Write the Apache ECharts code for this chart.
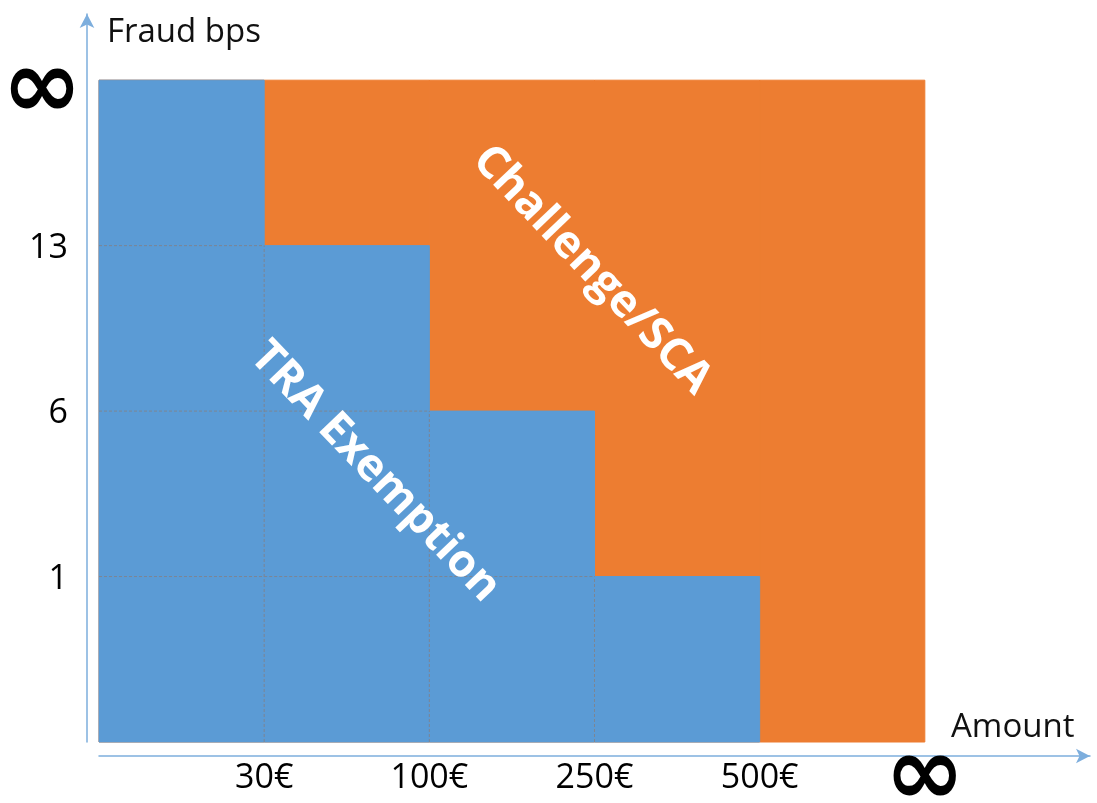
<!DOCTYPE html>
<html>
<head>
<meta charset="utf-8">
<script src="https://cdn.jsdelivr.net/npm/echarts@6/dist/echarts.min.js"></script>
<style>
    html, body { margin: 0; padding: 0; background: #fff; }
    #chart { width: 1097px; height: 803px; }
</style>
</head>
<body>
<div id="chart"></div>
<script>
// 数据
const amountLabels = ['30€', '100€', '250€', '500€', '∞'];   // x 轴刻度（列边界）
const fraudLabels = ['1', '6', '13', '∞'];                  // y 轴刻度（带边界）
const exemptionHeights = [4, 3, 2, 1, 0];                   // TRA 豁免：每列高度（格数）
const challengeHeights = [4, 4, 4, 4, 4];                   // Challenge/SCA：整块区域

const BLUE = '#5B9BD5';
const ORANGE = '#ED7D31';
const AXIS = '#7DAEDD';
const FONT = '"Open Sans", sans-serif';

var myChart = echarts.init(document.getElementById('chart'));

// 矩形列
function renderColumn(params, api) {
    var c = api.value(0);
    var h = api.value(1);
    if (h <= 0) return null;
    var p0 = api.coord([c, 0]);
    var p1 = api.coord([c + 1, h]);
    var color = api.visual('color');
    return {
        type: 'rect',
        shape: { x: p0[0], y: p1[1], width: p1[0] - p0[0], height: p0[1] - p1[1] },
        style: { fill: color, stroke: color, lineWidth: 1 }
    };
}

// 蓝色区域内部的虚线格
function renderCellLines(params, api) {
    var c = api.value(0);
    var h = api.value(1);
    var children = [];
    var lineStyle = { stroke: '#7C8593', lineWidth: 1, lineDash: [3, 2] };
    for (var k = 1; k < h; k++) {
        var a = api.coord([c, k]);
        var b = api.coord([c + 1, k]);
        children.push({ type: 'line', shape: { x1: a[0], y1: a[1], x2: b[0], y2: b[1] }, style: lineStyle });
    }
    var next = exemptionHeights[c + 1] || 0;
    var shared = Math.min(h, next);
    if (shared > 0) {
        var a2 = api.coord([c + 1, 0]);
        var b2 = api.coord([c + 1, shared]);
        children.push({ type: 'line', shape: { x1: a2[0], y1: a2[1], x2: b2[0], y2: b2[1] }, style: lineStyle });
    }
    return { type: 'group', children: children };
}

var infStyle = { fontSize: 96, fontWeight: 'bold', fontFamily: 'DejaVu Sans', color: '#000', lineHeight: 40 };

var options = {
    animation: false,
    grid: { left: 99, right: 7, top: 14, bottom: 61, outerBoundsMode: 'none', containLabel: false },
    xAxis: {
        type: 'value',
        min: 0,
        max: 6,
        offset: 14,
        splitLine: { show: false },
        axisTick: { show: false },
        axisLine: {
            show: true,
            onZero: false,
            symbol: ['none', 'arrow'],
            symbolSize: [11, 14],
            lineStyle: { color: AXIS, width: 1.5 }
        },
        axisLabel: {
            customValues: [1, 2, 3, 4, 5],
            margin: 3,
            formatter: function (v) {
                var t = amountLabels[v - 1];
                return t === '∞' ? '{inf|∞}' : '{num|' + t + '}';
            },
            rich: {
                inf: infStyle,
                num: { fontSize: 34, fontFamily: FONT, color: '#000', lineHeight: 36, padding: [2, 0, 0, 0] }
            }
        }
    },
    yAxis: {
        type: 'value',
        min: 0,
        max: 4.4,
        offset: 12,
        splitLine: { show: false },
        axisTick: { show: false },
        axisLine: {
            show: true,
            onZero: false,
            symbol: ['none', 'arrow'],
            symbolSize: [11, 14],
            lineStyle: { color: AXIS, width: 1.5 }
        },
        axisLabel: {
            customValues: [1, 2, 3, 4],
            margin: 5,
            formatter: function (v) {
                var t = fraudLabels[v - 1];
                return t === '∞' ? '{inf|∞}' : '{num|' + t + '}';
            },
            rich: {
                inf: Object.assign({}, infStyle, { padding: [24, 0, 0, 0] }),
                num: { fontSize: 34, fontFamily: FONT, color: '#000', lineHeight: 36, padding: [5, 14, 0, 0] }
            }
        }
    },
    series: [
        {
            name: 'Challenge/SCA',
            type: 'custom',
            renderItem: renderColumn,
            itemStyle: { color: ORANGE },
            data: challengeHeights.map(function (h, i) { return [i, h]; })
        },
        {
            name: 'TRA Exemption',
            type: 'custom',
            renderItem: renderColumn,
            itemStyle: { color: BLUE },
            data: exemptionHeights.map(function (h, i) { return [i, h]; })
        },
        {
            name: 'cells',
            type: 'custom',
            renderItem: renderCellLines,
            silent: true,
            data: exemptionHeights.map(function (h, i) { return [i, h]; })
        }
    ],
    graphic: [
        {
            type: 'text', x: 107, y: 33, z: 100,
            style: { text: 'Fraud bps', fontSize: 33, fontFamily: FONT, fill: '#111', verticalAlign: 'middle' }
        },
        {
            type: 'text', x: 951, y: 728, z: 100,
            style: { text: 'Amount', fontSize: 33, fontFamily: FONT, fill: '#111', verticalAlign: 'middle' }
        },
        {
            type: 'text', x: 592, y: 270, rotation: -0.81, z: 100,
            style: {
                text: 'Challenge/SCA', fontSize: 45, fontWeight: 'bold', fontFamily: FONT,
                fill: '#fff', align: 'center', verticalAlign: 'middle'
            }
        },
        {
            type: 'text', x: 375, y: 472, rotation: -0.81, z: 100,
            style: {
                text: 'TRA Exemption', fontSize: 45, fontWeight: 'bold', fontFamily: FONT,
                fill: '#fff', align: 'center', verticalAlign: 'middle'
            }
        }
    ]
};

// 绘制图表
myChart.setOption(options);
</script>
</body>
</html>
